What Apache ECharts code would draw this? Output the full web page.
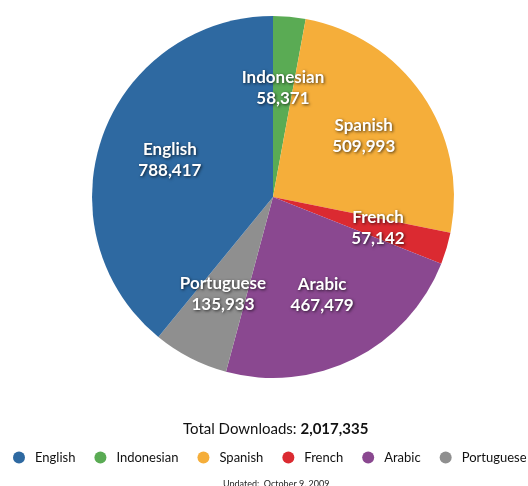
<!DOCTYPE html>
<html>
<head>
<meta charset="utf-8">
<script src="https://cdn.jsdelivr.net/npm/echarts@6/dist/echarts.min.js"></script>
<style>html,body{margin:0;padding:0;background:#fff}#c{width:528px;height:486px}</style>
</head>
<body>
<div id="c"></div>
<script>
// Slice order (clockwise from top)
var categories = ['Indonesian', 'Spanish', 'French', 'Arabic', 'Portuguese', 'English'];
var downloads = [58371, 509993, 57142, 467479, 135933, 788417];
var colors = ['#5aab54', '#f5ae3a', '#db2a31', '#8a4890', '#8f8f8f', '#2e69a1'];
var legendOrder = ['English', 'Indonesian', 'Spanish', 'French', 'Arabic', 'Portuguese'];
var totalLabel = 'Total Downloads: ';
var updatedLabel = 'Updated:  October 9, 2009';

var total = downloads.reduce(function (a, b) { return a + b; }, 0);
function fmt(n) { return n.toString().replace(/\B(?=(\d{3})+(?!\d))/g, ','); }

var data = categories.map(function (c, i) {
  return { name: c, value: downloads[i], itemStyle: { color: colors[i] } };
});

var font = 'Lato, "Open Sans", sans-serif';
var chart = echarts.init(document.getElementById('c'));
chart.setOption({
  animation: false,
  title: [{
    text: '{a|' + totalLabel + '}{b|' + fmt(total) + '}',
    left: 178, top: 417,
    textStyle: {
      fontWeight: 'normal',
      rich: {
        a: { fontFamily: font, fontSize: 15, fontWeight: 'normal', color: '#111' },
        b: { fontFamily: font, fontSize: 15, fontWeight: 'bold', color: '#111' }
      }
    }
  }, {
    text: updatedLabel,
    left: 218, top: 475,
    textStyle: { fontFamily: font, fontSize: 9, fontWeight: 'normal', color: '#222' }
  }],
  legend: {
    data: legendOrder,
    left: 8, top: 446,
    width: 700,
    icon: 'circle',
    itemWidth: 22, itemHeight: 12,
    itemGap: 19,
    textStyle: { fontFamily: font, fontSize: 13, color: '#111' }
  },
  series: [{
    type: 'pie',
    center: [273, 197],
    radius: [0, 181],
    startAngle: 90,
    clockwise: true,
    label: { show: false },
    labelLine: { show: false },
    emphasis: { disabled: true },
    data: data
  }, {
    type: 'pie',
    silent: true,
    center: [273, 197],
    radius: [32, 181],
    startAngle: 90,
    clockwise: true,
    itemStyle: { color: 'rgba(0,0,0,0)' },
    label: {
      show: true,
      position: 'inside',
      formatter: function (p) { return p.name + '\n' + fmt(p.value); },
      fontFamily: font, fontSize: 17, fontWeight: 'bold', color: '#fff',
      lineHeight: 21,
      textShadowColor: 'rgba(0,0,0,0.7)', textShadowBlur: 3, textShadowOffsetX: 1, textShadowOffsetY: 1
    },
    labelLine: { show: false },
    emphasis: { disabled: true },
    data: categories.map(function (c, i) { return { name: c, value: downloads[i] }; })
  }]
});
</script>
</body>
</html>
